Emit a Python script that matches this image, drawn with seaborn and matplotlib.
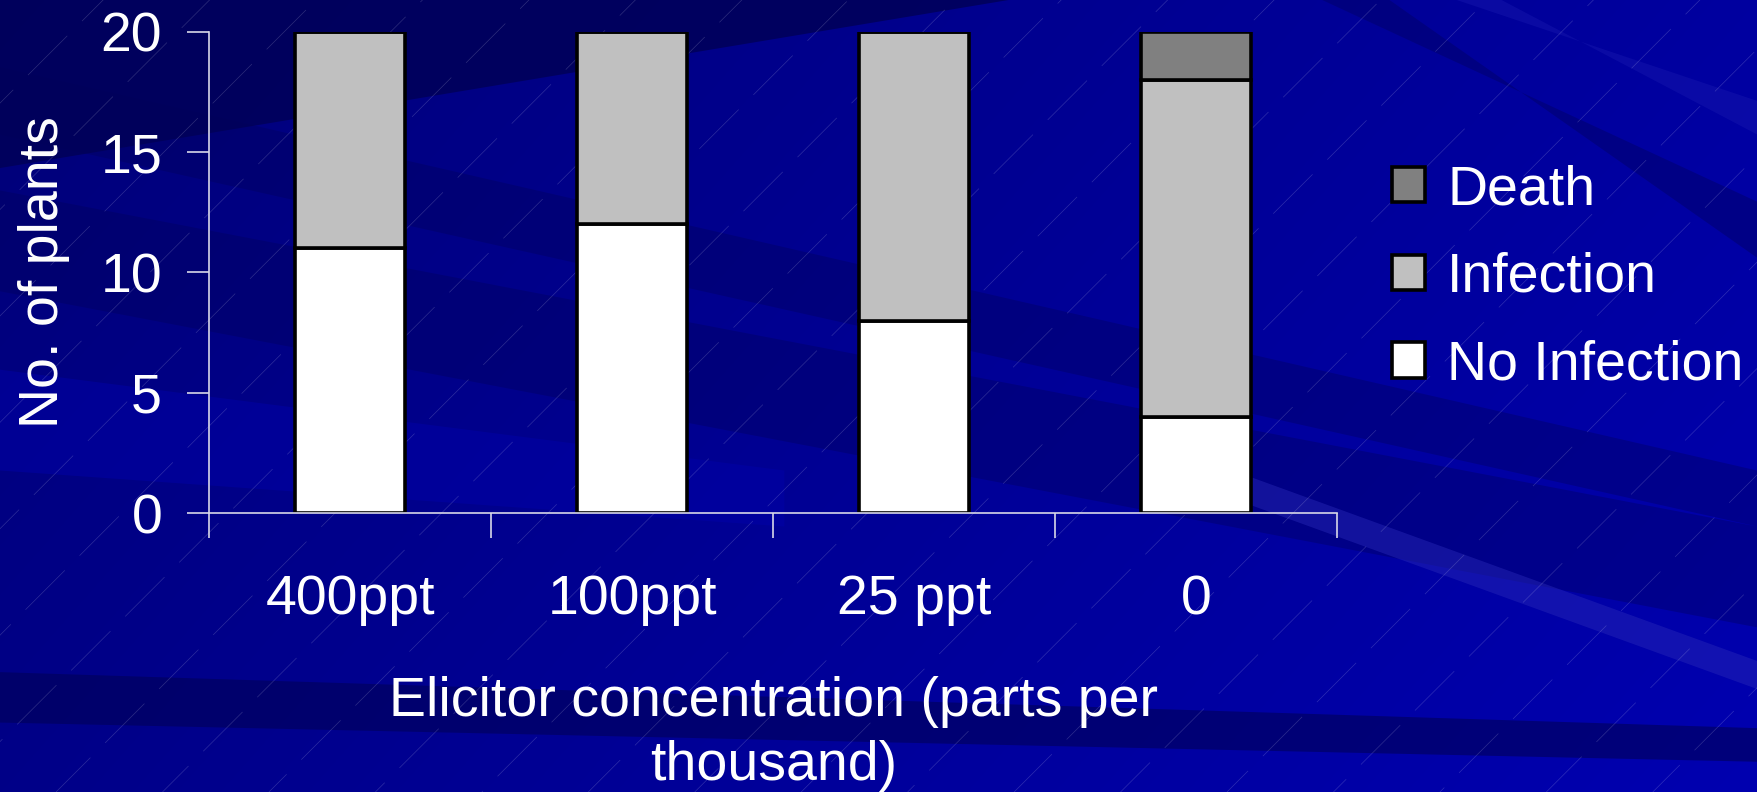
import numpy as np
import pandas as pd
import matplotlib
matplotlib.use("Agg")
import matplotlib.pyplot as plt
import seaborn as sns
from matplotlib.patches import Polygon, Patch

# ---- data ----
categories = ["400ppt", "100ppt", "25 ppt", "0"]
no_infection = [11, 12, 8, 4]
infection = [9, 8, 12, 14]
death = [0, 0, 0, 2]
legend_order = ["Death", "Infection", "No Infection"]
y_ticks = [0, 5, 10, 15, 20]

colors = {"No Infection": "#FFFFFF", "Infection": "#C0C0C0", "Death": "#808080"}

df = pd.DataFrame({
    "category": categories,
    "No Infection": no_infection,
    "Infection": infection,
    "Death": death,
})

sns.set_theme(style="white")
plt.rcParams["font.family"] = ["Liberation Sans", "DejaVu Sans"]
FS = 40

fig = plt.figure(figsize=(17.57, 7.92), dpi=100)
fig.patch.set_facecolor("#000088")

# ---- slide-style background: blue gradient, streaks and fine diagonal lines ----
bg = fig.add_axes([0, 0, 1, 1], zorder=-10)
W, H = 1568, 707
yy, xx = np.mgrid[0:H, 0:W]
blue = 0x78 + 0x28 * (xx / W) + 0x10 * (yy / H)
img = np.zeros((H, W, 3))
img[..., 2] = np.clip(blue, 0, 255) / 255
bg.imshow(img, extent=(0, W, H, 0), aspect="auto", interpolation="bilinear")

dark = "#000058"
streaks = [
    ([(0, 0), (900, 0), (0, 150)], dark, 0.85),
    ([(0, 170), (0, 260), (1568, 560), (1568, 470)], dark, 0.35),
    ([(0, 60), (0, 120), (1568, 470), (1568, 420)], dark, 0.35),
    ([(0, 600), (0, 645), (1568, 680), (1568, 650)], dark, 0.6),
    ([(1100, 420), (1100, 445), (1568, 615), (1568, 590)], "#2a2ab8", 0.45),
    ([(1180, 0), (1240, 0), (1568, 230), (1568, 180)], "#00006a", 0.5),
    ([(1300, 0), (1340, 0), (1568, 120), (1568, 90)], "#1a1ab0", 0.4),
    ([(0, 330), (0, 420), (700, 470), (700, 420)], "#0000a8", 0.5),
]
for pts, col, a in streaks:
    bg.add_patch(Polygon(pts, closed=True, facecolor=col, edgecolor="none", alpha=a))

slope = -1.0
for i, x0 in enumerate(np.arange(-900, W + 200, 95)):
    xs = np.array([x0, x0 + 1000])
    ys = H + slope * (xs - x0)
    bg.plot(xs, ys, color="white", lw=0.5, alpha=0.18,
            linestyle=(i * 17 % 80, (80, 30)))
bg.set_xlim(0, W)
bg.set_ylim(H, 0)
bg.axis("off")

# ---- stacked bar chart ----
ax = fig.add_axes([0.1192, 0.352, 0.6418, 0.608])
ax.set_facecolor("none")

bottom = np.zeros(len(categories))
for name in ["No Infection", "Infection", "Death"]:
    sns.barplot(data=df, x="category", y=name, bottom=bottom, color=colors[name],
                saturation=1, edgecolor="black", linewidth=2.6, width=0.39, ax=ax)
    bottom = bottom + df[name].to_numpy()

ax.set_xlim(-0.5, len(categories) - 0.5)
ax.set_ylim(0, 20)
ax.set_yticks(y_ticks)
ax.set_yticklabels([str(v) for v in y_ticks])
ax.set_xticks(range(len(categories)))
ax.set_xticklabels(categories)
ax.set_xticks(np.arange(-0.5, len(categories)), minor=True)

for side in ["top", "right"]:
    ax.spines[side].set_visible(False)
for side in ["left", "bottom"]:
    ax.spines[side].set_color("#d8d8e8")
    ax.spines[side].set_linewidth(1.2)

ax.tick_params(axis="y", which="major", direction="out", length=16, width=1.2,
               color="#d8d8e8", labelsize=FS, labelcolor="white", pad=18, left=True)
ax.tick_params(axis="x", which="major", length=0, labelsize=FS,
               labelcolor="white", pad=44)
ax.tick_params(axis="x", which="minor", direction="out", length=18, width=1.2,
               color="#d8d8e8", bottom=True)

ax.set_ylabel("No. of plants", fontsize=FS, color="white", labelpad=22)
ax.set_xlabel("Elicitor concentration (parts per\nthousand)", fontsize=FS,
              color="white", labelpad=36, linespacing=1.3)

handles = [Patch(facecolor=colors[n], edgecolor="black", linewidth=2.6) for n in legend_order]
leg = fig.legend(handles, legend_order, loc="center left", bbox_to_anchor=(0.792, 0.649),
                 frameon=False, fontsize=FS, labelcolor="white", handlelength=0.6,
                 handleheight=0.6, handletextpad=0.4, labelspacing=0.64,
                 borderpad=0, borderaxespad=0)

fig.savefig("out.png", dpi=100, facecolor=fig.get_facecolor())
